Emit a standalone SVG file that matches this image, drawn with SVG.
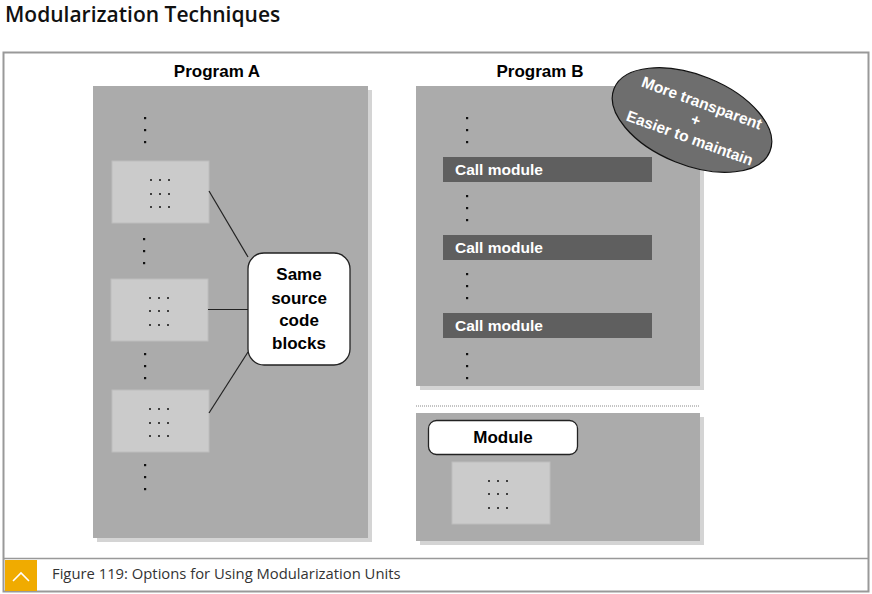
<svg xmlns="http://www.w3.org/2000/svg" width="872" height="594" viewBox="0 0 872 594">
<defs>
<style>
.panel{fill:#ababab}
.shadow{fill:#d4d4d4}
.blk{fill:#cbcbcb;stroke:#bdbdbd;stroke-width:1}
.call{fill:#5f5f5f}
.dot{fill:#111}
.t{font-family:"Liberation Sans",Arial,sans-serif;font-weight:bold;fill:#000}
.w{font-family:"Liberation Sans",Arial,sans-serif;font-weight:bold;fill:#fff}
.conn{stroke:#222;stroke-width:1.2;fill:none}
</style>
</defs>
<rect width="872" height="594" fill="#fff"/>
<text x="5" y="22" style="font-family:'Open Sans','Liberation Sans',sans-serif;font-weight:600;font-size:21px;fill:#111">Modularization Techniques</text>
<rect x="3.5" y="52.5" width="865" height="539" fill="#fff" stroke="#999" stroke-width="2"/>
<line x1="3" y1="558.5" x2="869" y2="558.5" stroke="#999" stroke-width="1.5"/>
<rect x="5" y="560" width="32" height="31" fill="#f0ab00"/>
<polyline points="13,581 21,573 29,581" fill="none" stroke="#fff" stroke-width="1.6"/>
<text x="52" y="579" style="font-family:'Open Sans','Liberation Sans',sans-serif;font-size:14.8px;fill:#333">Figure 119: Options for Using Modularization Units</text>

<g id="programA">
<rect class="shadow" x="97" y="90" width="275" height="452"/>
<rect class="panel" x="93" y="86" width="275" height="452"/>
<text class="t" x="217" y="77" font-size="17" text-anchor="middle">Program A</text>
<g class="dot">
<rect x="144" y="117" width="2.2" height="2.2"/><rect x="144" y="129" width="2.2" height="2.2"/><rect x="144" y="141" width="2.2" height="2.2"/>
<rect x="143" y="238" width="2.2" height="2.2"/><rect x="143" y="250" width="2.2" height="2.2"/><rect x="143" y="262" width="2.2" height="2.2"/>
<rect x="144" y="353" width="2.2" height="2.2"/><rect x="144" y="365" width="2.2" height="2.2"/><rect x="144" y="377" width="2.2" height="2.2"/>
<rect x="144" y="464" width="2.2" height="2.2"/><rect x="144" y="476" width="2.2" height="2.2"/><rect x="144" y="488" width="2.2" height="2.2"/>
</g>
</g>

<g id="blockA1">
<rect class="blk" x="112" y="161" width="97" height="62"/>
<g class="dot"><circle cx="151" cy="180" r="1"/><circle cx="160" cy="180" r="1"/><circle cx="169" cy="180" r="1"/><circle cx="151" cy="194" r="1"/><circle cx="160" cy="194" r="1"/><circle cx="169" cy="194" r="1"/><circle cx="151" cy="207" r="1"/><circle cx="160" cy="207" r="1"/><circle cx="169" cy="207" r="1"/></g>
</g>
<g id="blockA2">
<rect class="blk" x="111" y="279" width="97" height="62"/>
<g class="dot"><circle cx="150" cy="298" r="1"/><circle cx="159" cy="298" r="1"/><circle cx="168" cy="298" r="1"/><circle cx="150" cy="311" r="1"/><circle cx="159" cy="311" r="1"/><circle cx="168" cy="311" r="1"/><circle cx="150" cy="325" r="1"/><circle cx="159" cy="325" r="1"/><circle cx="168" cy="325" r="1"/></g>
</g>
<g id="blockA3">
<rect class="blk" x="112" y="390" width="97" height="62"/>
<g class="dot"><circle cx="150" cy="409" r="1"/><circle cx="159" cy="409" r="1"/><circle cx="168" cy="409" r="1"/><circle cx="150" cy="423" r="1"/><circle cx="159" cy="423" r="1"/><circle cx="168" cy="423" r="1"/><circle cx="150" cy="436" r="1"/><circle cx="159" cy="436" r="1"/><circle cx="168" cy="436" r="1"/></g>
</g>

<g id="connectors">
<line class="conn" x1="209" y1="191" x2="248" y2="257"/>
<line class="conn" x1="208" y1="309.5" x2="248" y2="309.5"/>
<line class="conn" x1="209" y1="413" x2="248" y2="352"/>
</g>

<g id="sameSource">
<rect x="248" y="253" width="102" height="112" rx="16" fill="#fff" stroke="#222" stroke-width="1.3"/>
<text class="t" font-size="17" text-anchor="middle"><tspan x="299" y="280">Same</tspan><tspan x="299" y="304">source</tspan><tspan x="299" y="326">code</tspan><tspan x="299" y="349">blocks</tspan></text>
</g>

<g id="programB">
<rect class="shadow" x="420" y="90" width="284" height="300"/>
<rect class="panel" x="416" y="86" width="284" height="300"/>
<text class="t" x="540" y="77" font-size="17" text-anchor="middle">Program B</text>
<g class="dot">
<rect x="466" y="117" width="2.2" height="2.2"/><rect x="466" y="129" width="2.2" height="2.2"/><rect x="466" y="141" width="2.2" height="2.2"/>
<rect x="466" y="195" width="2.2" height="2.2"/><rect x="466" y="207" width="2.2" height="2.2"/><rect x="466" y="219" width="2.2" height="2.2"/>
<rect x="466" y="273" width="2.2" height="2.2"/><rect x="466" y="285" width="2.2" height="2.2"/><rect x="466" y="297" width="2.2" height="2.2"/>
<rect x="466" y="353" width="2.2" height="2.2"/><rect x="466" y="365" width="2.2" height="2.2"/><rect x="466" y="377" width="2.2" height="2.2"/>
</g>
</g>
<g id="call1"><rect class="call" x="443" y="157" width="209" height="25"/><text class="w" x="455" y="175" font-size="15.5">Call module</text></g>
<g id="call2"><rect class="call" x="443" y="235" width="209" height="25"/><text class="w" x="455" y="253" font-size="15.5">Call module</text></g>
<g id="call3"><rect class="call" x="443" y="313" width="209" height="25"/><text class="w" x="455" y="331" font-size="15.5">Call module</text></g>

<g id="benefit">
<ellipse cx="692" cy="120" rx="84" ry="45" transform="rotate(22 692 120)" fill="#6e6e6e" stroke="#111" stroke-width="1.2"/>
<g class="w" font-size="15.5" text-anchor="middle">
<text x="700" y="108" transform="rotate(20 700 108)">More transparent</text>
<text x="694" y="125" transform="rotate(20 694 125)">+</text>
<text x="688" y="143" transform="rotate(20 688 143)">Easier to maintain</text>
</g>
</g>

<line x1="416" y1="406" x2="700" y2="406" stroke="#888" stroke-width="1" stroke-dasharray="1,1"/>

<g id="moduleUnit">
<rect class="shadow" x="420" y="417" width="284" height="128"/>
<rect class="panel" x="416" y="413" width="284" height="128"/>
<rect x="428.5" y="420.5" width="149" height="34" rx="8" fill="#fff" stroke="#222" stroke-width="1.3"/>
<text class="t" x="503" y="443" font-size="17" text-anchor="middle">Module</text>
<rect class="blk" x="452" y="462" width="98" height="62"/>
<g class="dot"><circle cx="489" cy="481" r="1"/><circle cx="498" cy="481" r="1"/><circle cx="507" cy="481" r="1"/><circle cx="489" cy="494" r="1"/><circle cx="498" cy="494" r="1"/><circle cx="507" cy="494" r="1"/><circle cx="489" cy="508" r="1"/><circle cx="498" cy="508" r="1"/><circle cx="507" cy="508" r="1"/></g>
</g>
</svg>
